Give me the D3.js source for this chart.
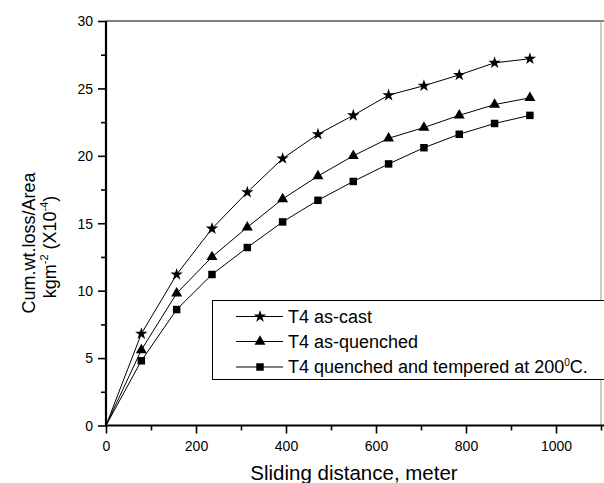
<!DOCTYPE html>
<html>
<head>
  <meta charset="utf-8">
  <title>Cumulative wear loss vs sliding distance</title>
<script src="https://d3js.org/d3.v7.min.js"></script>
  <style>
    body { margin: 0; background: #fff; }
    svg { display: block; font-family: "Liberation Sans", Arial, sans-serif; }
    .data-line { fill: none; stroke: #000; stroke-width: 1px; }
    .axis path, .axis line { stroke: #000; }
    .axis text { font-size: 14px; fill: #000; }
  </style>
</head>
<body>
  <script>
    // sliding distance (m) and cumulative wt loss per area (x10^-4 kg m^-2)
    const distance = [0, 78.5, 157, 235.5, 314, 392.5, 471, 549.5, 628, 706.5, 785, 863.5, 942];
    const asCast = [0, 6.8, 11.2, 14.6, 17.3, 19.8, 21.6, 23.0, 24.5, 25.2, 26.0, 26.9, 27.2];
    const asQuenched = [0, 5.6, 9.8, 12.5, 14.7, 16.8, 18.5, 20.0, 21.3, 22.1, 23.0, 23.8, 24.3];
    const tempered = [0, 4.8, 8.6, 11.2, 13.2, 15.1, 16.7, 18.1, 19.4, 20.6, 21.6, 22.4, 23.0];
    const seriesNames = ["T4 as-cast", "T4 as-quenched", "T4 quenched and tempered at 200"];
    const xTicks = [0, 200, 400, 600, 800, 1000];
    const yTicks = [0, 5, 10, 15, 20, 25, 30];

    const width = 604, height = 483;
    const x0 = 106, x1 = 601, y0 = 425.5, y1 = 21;

    const x = d3.scaleLinear().domain([0, 1100]).range([x0, x1]);
    const y = d3.scaleLinear().domain([0, 30]).range([y0, y1]);

    const svg = d3.select("body").append("svg")
        .attr("width", width)
        .attr("height", height);

    const series = [
      { name: seriesNames[0], values: asCast, symbol: d3.symbolStar, size: 48 },
      { name: seriesNames[1], values: asQuenched, symbol: d3.symbolTriangle, size: 52 },
      { name: seriesNames[2], values: tempered, symbol: d3.symbolSquare, size: 56 }
    ];

    // frame: top black line, right grey line
    svg.append("line")
        .attr("x1", x0).attr("x2", width)
        .attr("y1", y1).attr("y2", y1)
        .attr("stroke", "#000").attr("stroke-width", 1.2);
    svg.append("line")
        .attr("x1", x1).attr("x2", x1)
        .attr("y1", y1).attr("y2", y0)
        .attr("stroke", "#999").attr("stroke-width", 1);

    // x axis
    const xAxis = svg.append("g")
        .attr("class", "axis")
        .attr("transform", "translate(0," + y0 + ")");
    xAxis.call(d3.axisBottom(x).tickValues(d3.range(0, 1101, 100))
        .tickSize(5).tickFormat(""))
      .selectAll("line").attr("stroke-width", 1.6);
    xAxis.selectAll(".tick")
        .filter(d => xTicks.includes(d))
        .select("line").attr("y2", 8);
    xAxis.select(".domain").attr("stroke-width", 2).attr("d", "M" + x0 + ",0H" + width);
    xAxis.selectAll(".tick")
        .filter(d => xTicks.includes(d))
        .append("text")
        .attr("y", 25)
        .attr("text-anchor", "middle")
        .text(d => d);

    // y axis
    const yAxis = svg.append("g")
        .attr("class", "axis")
        .attr("transform", "translate(" + x0 + ",0)");
    yAxis.call(d3.axisLeft(y).tickValues(d3.range(0, 30.1, 2.5))
        .tickSize(5).tickFormat(""))
      .selectAll("line").attr("stroke-width", 1.6);
    yAxis.selectAll(".tick")
        .filter(d => yTicks.includes(d))
        .select("line").attr("x2", -8);
    yAxis.select(".domain").attr("stroke-width", 2.2).attr("d", "M0," + y0 + "V" + y1);
    yAxis.selectAll(".tick")
        .filter(d => yTicks.includes(d))
        .append("text")
        .attr("x", -13)
        .attr("dy", "0.35em")
        .attr("text-anchor", "end")
        .text(d => d);

    // axis titles
    svg.append("text")
        .attr("x", 354).attr("y", 480)
        .attr("text-anchor", "middle")
        .style("font-size", "20.5px")
        .text("Sliding distance, meter");

    const yTitle = svg.append("g").attr("transform", "translate(35,243) rotate(-90)");
    yTitle.append("text")
        .attr("text-anchor", "middle")
        .style("font-size", "18px")
        .text("Cum.wt.loss/Area");
    const t2 = yTitle.append("text")
        .attr("y", 21).attr("x", -4)
        .attr("text-anchor", "middle")
        .style("font-size", "18px");
    t2.append("tspan").text("kgm");
    t2.append("tspan").attr("dy", -8).style("font-size", "11px").text("-2");
    t2.append("tspan").attr("dy", 8).text(" (X10");
    t2.append("tspan").attr("dy", -8).style("font-size", "11px").text("-4");
    t2.append("tspan").attr("dy", 8).text(")");

    // lines and markers
    const line = d3.line()
        .x((d, i) => x(distance[i]))
        .y(d => y(d));

    series.forEach(s => {
      svg.append("path")
          .datum(s.values)
          .attr("class", "data-line")
          .attr("d", line);
      svg.selectAll(null)
          .data(s.values.slice(1))
          .enter().append("path")
          .attr("transform", (d, i) => "translate(" + x(distance[i + 1]) + "," + y(d) + ")")
          .attr("d", d3.symbol().type(s.symbol).size(s.size))
          .attr("fill", "#000");
    });

    // legend
    const legend = svg.append("g");
    legend.append("rect")
        .attr("x", 212.5).attr("y", 300.5)
        .attr("width", 420).attr("height", 79)
        .attr("fill", "#fff").attr("stroke", "#000").attr("stroke-width", 1);
    const rowY = [316.5, 341.5, 367];
    series.forEach((s, i) => {
      const g = legend.append("g").attr("transform", "translate(0," + rowY[i] + ")");
      g.append("line")
          .attr("x1", 236).attr("x2", 283)
          .attr("stroke", "#000").attr("stroke-width", 1);
      g.append("path")
          .attr("transform", "translate(260,0)")
          .attr("d", d3.symbol().type(s.symbol).size(s.size))
          .attr("fill", "#000");
      const t = g.append("text")
          .attr("x", 288).attr("dy", "0.36em")
          .style("font-size", "18px")
          .text(s.name);
      if (i === 2) {
        t.append("tspan").attr("dy", -7).style("font-size", "10px").text("0");
        t.append("tspan").attr("dy", 7).text("C.");
      }
    });
  </script>
</body>
</html>
